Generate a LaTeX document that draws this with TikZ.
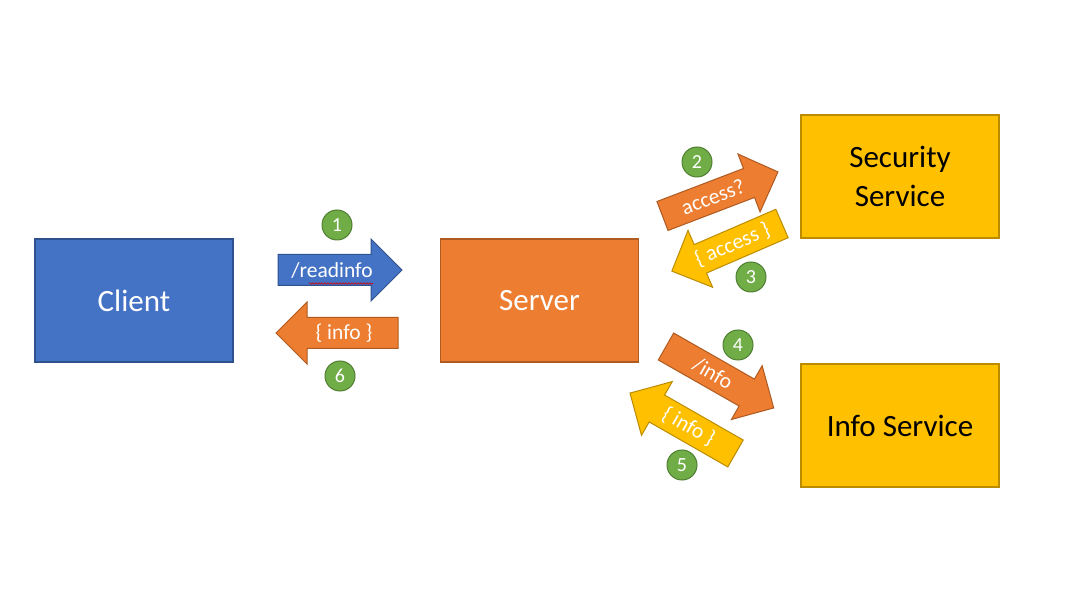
\documentclass[tikz,border=0pt]{standalone}
\usepackage{fontspec}
\setmainfont{Carlito}
\usetikzlibrary{decorations.pathmorphing}
\definecolor{cblue}{HTML}{4472C4}
\definecolor{cblueline}{HTML}{2F528F}
\definecolor{corange}{HTML}{ED7D31}
\definecolor{corangeline}{HTML}{AE5A21}
\definecolor{cyellow}{HTML}{FFC000}
\definecolor{cyellowline}{HTML}{BC8C00}
\definecolor{cgreen}{HTML}{70AD47}
\definecolor{cgreenline}{HTML}{507E32}
\tikzset{
  box/.style={draw, line width=1.2pt, minimum width=198pt, minimum height=123pt, inner sep=0pt, align=center, font=\fontsize{31}{39}\selectfont},
  bluebox/.style={box, fill=cblue, draw=cblueline, text=white},
  orangebox/.style={box, fill=corange, draw=corangeline, text=white},
  yellowbox/.style={box, fill=cyellow, draw=cyellowline, text=black},
  barrow/.style={line width=1pt, line join=miter},
  bluearrow/.style={barrow, fill=cblue, draw=cblueline},
  orangearrow/.style={barrow, fill=corange, draw=corangeline},
  yellowarrow/.style={barrow, fill=cyellow, draw=cyellowline},
  arrowtext/.style={text=white, inner sep=0pt, font=\fontsize{21.5}{25}\selectfont},
  num/.style={circle, fill=cgreen, draw=cgreenline, line width=1pt, minimum size=30pt, inner sep=0pt, text=white, font=\fontsize{20}{24}\selectfont},
}
% #1 name, #2 tail centre, #3 angle, #4 length, #5 style, #6 text, #7 text angle
\newcommand\blockarrow[7]{%
  \begin{scope}[shift={#2}, rotate=#3]
    \draw[#5] (0,15.5) -- ({#4-31},15.5) -- ({#4-31},31) -- (#4,0) -- ({#4-31},-31) -- ({#4-31},-15.5) -- (0,-15.5) -- cycle;
    \node[arrowtext, rotate=#7] (#1) at (54,0) {#6};
  \end{scope}}
\begin{document}
\begin{tikzpicture}[x=1pt, y=-1pt]
\path[use as bounding box, fill=white] (0,0) rectangle (1080,601);
\node[bluebox] (client) at (134,300.5) {Client};
\node[orangebox] (server) at (539.5,300.5) {Server};
\node[yellowbox] (security) at (900,176.5) {Security\\Service};
\node[yellowbox] (infoservice) at (900,425.5) {Info Service};

\blockarrow{t1}{(278,270)}{0}{124}{bluearrow}{/readinfo}{0}
\draw[red!85!black, line width=0.6pt, decorate, decoration={snake, amplitude=0.8pt, segment length=3pt}] (309,283.5) -- (373,283.5);
\blockarrow{t6}{(398,333)}{180}{122}{orangearrow}{\{ info \}}{0}
\blockarrow{t2}{(662.5,216)}{20.9}{123.6}{orangearrow}{access?}{20.9}
\blockarrow{t3}{(782,223.5)}{203.4}{120}{yellowarrow}{\{ access \}}{23.4}
\blockarrow{t4}{(666,346.5)}{-29.7}{124}{orangearrow}{/info}{-29.7}
\blockarrow{t5}{(735.5,453.5)}{150.2}{121.6}{yellowarrow}{\{ info \}}{-29.8}

\node[num] (n1) at (337,225) {1};
\node[num] (n6) at (340,376) {6};
\node[num] (n2) at (697,162) {2};
\node[num] (n3) at (751,277) {3};
\node[num] (n4) at (738,345) {4};
\node[num] (n5) at (682,465) {5};
\end{tikzpicture}
\end{document}
